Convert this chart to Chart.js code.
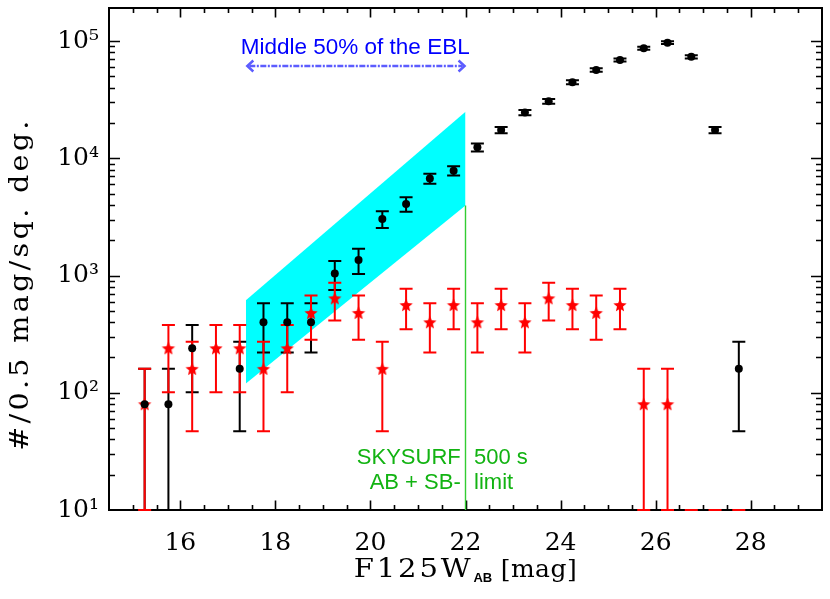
<!DOCTYPE html>
<html><head><meta charset="utf-8">
<script src="https://cdn.jsdelivr.net/npm/chart.js@4.4.1/dist/chart.umd.min.js"></script>
<style>html,body{margin:0;padding:0;background:#fff;overflow:hidden}#wrap{width:830px;height:599px;position:relative}</style>
</head><body><div id="wrap"><canvas id="c" width="830" height="599"></canvas></div>
<script>
// ---------------- data ----------------
const xTickValues = [16, 18, 20, 22, 24, 26, 28];
const xTickLabels = ['16', '18', '20', '22', '24', '26', '28'];
const yTickValues = [10, 100, 1000, 10000, 100000];
const yTickLabels = ['10\u00B9', '10\u00B2', '10\u00B3', '10\u2074', '10\u2075'];

const blackMag   = [15.25,15.75,16.25,17.25,17.75,18.25,18.75,19.25,19.75,20.25,20.75,21.25,21.75,22.25,22.75,23.25,23.75,24.25,24.75,25.25,25.75,26.25,26.75,27.25,27.75];
const blackCount = [80,80,240,160,400,400,400,1040,1360,3040,4080,6720,7840,12400,17400,24600,30600,44600,56600,68900,86900,97000,73400,17400,160];
const blackLow   = [0,0,101,47,221,221,221,752,1030,2547,3509,6064,7132,11404,16345,23345,29200,42910,54697,66800,84542,94214,70977,16345,47];
const blackHigh  = [160,160,379,273,579,579,579,1328,1690,3533,4651,7376,8548,13396,18455,25855,32000,46290,58503,71000,89258,99786,75823,18455,273];

const redMag   = [15.25,15.75,16.25,16.75,17.25,17.75,18.25,18.75,19.25,19.75,20.25,20.75,21.25,21.75,22.25,22.75,23.25,23.75,24.25,24.75,25.25,25.75,26.25,26.75,27.25,27.75];
const redCount = [80,240,160,240,240,160,240,480,640,480,160,560,400,560,400,560,400,640,560,480,560,80,80,0,0,0];
const redLow   = [0,101,47,101,101,47,101,284,414,284,47,348,221,348,221,348,221,414,348,284,348,0,0,0,0,0];
const redHigh  = [160,379,273,379,379,273,379,676,866,676,273,772,579,772,579,772,579,866,772,676,772,160,160,0,0,0];

const bandMag   = [17.38, 22.0];
const bandUpper = [615, 24900];
const bandLower = [120, 3960];

const limitMag   = [22.0, 22.0];
const limitCount = [3960, 10];

const arrowMag   = [17.41, 21.98];
const arrowCount = [61200, 61200];

// ---------------- styling / helpers ----------------
const SERIF = '"DejaVu Serif", "Liberation Serif", serif';
const SANS = '"Liberation Sans", Arial, Helvetica, sans-serif';
const GREEN = '#12b312';

const annotations = [
  { text: 'Middle 50% of the EBL', x: 19.68, y: 78300, align: 'center', color: '#0000ff', font: '22.5px ' + SANS },
  { text: 'SKYSURF',  x: 21.90, y: 24.8, align: 'right', color: GREEN, font: '22px ' + SANS },
  { text: 'AB + SB-', x: 21.90, y: 15.2, align: 'right', color: GREEN, font: '22px ' + SANS },
  { text: '500 s',    x: 22.18, y: 24.8, align: 'left',  color: GREEN, font: '22px ' + SANS },
  { text: 'limit',    x: 22.18, y: 15.2, align: 'left',  color: GREEN, font: '22px ' + SANS }
];

function makeStar(r, color) {
  const s = Math.ceil(2 * r + 2);
  const c = document.createElement('canvas');
  c.width = s; c.height = s;
  const g = c.getContext('2d');
  g.fillStyle = color;
  g.beginPath();
  for (let k = 0; k < 10; k++) {
    const ang = -Math.PI / 2 + k * Math.PI / 5;
    const rr = (k % 2) ? r * 0.45 : r;
    g.lineTo(s / 2 + rr * Math.cos(ang), s / 2 + rr * Math.sin(ang) + r * 0.08);
  }
  g.closePath();
  g.fill();
  return c;
}
const starImg = makeStar(7, '#ff0000');

function drawErrorBars(chart, mags, lows, highs, color) {
  const ctx = chart.ctx, xs = chart.scales.x, ys = chart.scales.y, a = chart.chartArea;
  ctx.save();
  ctx.strokeStyle = color;
  ctx.lineWidth = 2;
  ctx.lineCap = 'butt';
  for (let i = 0; i < mags.length; i++) {
    const px = xs.getPixelForValue(mags[i]);
    const yl = lows[i] > ys.min ? ys.getPixelForValue(lows[i]) : a.bottom;
    const yh = highs[i] > ys.min ? ys.getPixelForValue(highs[i]) : a.bottom;
    ctx.beginPath();
    ctx.moveTo(px, yl); ctx.lineTo(px, yh);
    ctx.moveTo(px - 6.5, yl); ctx.lineTo(px + 6.5, yl);
    ctx.moveTo(px - 6.5, yh); ctx.lineTo(px + 6.5, yh);
    ctx.stroke();
  }
  ctx.restore();
}

const overlay = {
  id: 'overlay',
  beforeDatasetsDraw(chart) {
    const ctx = chart.ctx, xs = chart.scales.x, ys = chart.scales.y, a = chart.chartArea;
    // inward ticks + frame
    ctx.save();
    ctx.strokeStyle = '#000';
    ctx.lineWidth = 1.6;
    ctx.beginPath();
    for (let k = 0; k * 0.5 + 15 < xs.max; k++) {
      const m = 15 + k * 0.5;
      const major = xTickValues.includes(m);
      const len = major ? 9.5 : 5;
      const px = Math.round(xs.getPixelForValue(m)) + 0.5;
      ctx.moveTo(px, a.bottom); ctx.lineTo(px, a.bottom - len);
      ctx.moveTo(px, a.top); ctx.lineTo(px, a.top + len);
    }
    for (let d = 1; d <= 5; d++) {
      for (let f = 1; f <= 9; f++) {
        const v = f * Math.pow(10, d);
        if (v <= ys.min || v >= ys.max) continue;
        const len = f === 1 ? 11 : 6;
        const py = Math.round(ys.getPixelForValue(v)) + 0.5;
        ctx.moveTo(a.left, py); ctx.lineTo(a.left + len, py);
        ctx.moveTo(a.right, py); ctx.lineTo(a.right - len, py);
      }
    }
    ctx.stroke();
    ctx.lineWidth = 2;
    ctx.strokeRect(a.left, a.top, a.right - a.left, a.bottom - a.top);
    ctx.restore();
  },
  beforeDatasetDraw(chart, args) {
    if (args.index === 1) {
      drawErrorBars(chart, blackMag, blackLow, blackHigh, '#000000');
      drawErrorBars(chart, redMag, redLow, redHigh, '#ff0000');
    }
  },
  afterDatasetsDraw(chart) {
    const ctx = chart.ctx, xs = chart.scales.x, ys = chart.scales.y;
    // double-headed arrow
    const x1 = xs.getPixelForValue(arrowMag[0]), x2 = xs.getPixelForValue(arrowMag[1]);
    const ya = Math.round(ys.getPixelForValue(arrowCount[0]));
    ctx.save();
    ctx.strokeStyle = '#5c5cff';
    ctx.lineWidth = 2.5;
    ctx.setLineDash([6, 1.5, 2, 1.5]);
    ctx.beginPath(); ctx.moveTo(x1 + 2, ya); ctx.lineTo(x2 - 2, ya); ctx.stroke();
    ctx.setLineDash([]);
    ctx.beginPath();
    ctx.moveTo(x1 + 6, ya - 5.5); ctx.lineTo(x1, ya); ctx.lineTo(x1 + 6, ya + 5.5);
    ctx.moveTo(x2 - 6, ya - 5.5); ctx.lineTo(x2, ya); ctx.lineTo(x2 - 6, ya + 5.5);
    ctx.stroke();
    ctx.restore();

    // annotation texts
    ctx.save();
    ctx.textBaseline = 'alphabetic';
    for (const t of annotations) {
      ctx.font = t.font;
      ctx.fillStyle = t.color;
      ctx.textAlign = t.align;
      ctx.fillText(t.text, xs.getPixelForValue(t.x), ys.getPixelForValue(t.y));
    }
    ctx.restore();
  },
  afterDraw(chart) {
    const ctx = chart.ctx, a = chart.chartArea;
    ctx.save();
    ctx.fillStyle = '#000';
    ctx.textBaseline = 'alphabetic';
    // x-axis title with subscript
    const f1 = '26px ' + SERIF, f3 = '25px ' + SERIF, f2 = 'bold 13px ' + SANS;
    const sx = 1.12;
    ctx.font = f1;
    ctx.letterSpacing = '2.5px';
    const w1 = ctx.measureText('F125W').width * sx;
    ctx.font = f3;
    ctx.letterSpacing = '0.5px';
    const w3 = ctx.measureText(' [mag]').width;
    ctx.letterSpacing = '0px';
    ctx.font = f2;
    const w2 = ctx.measureText('AB').width;
    const total = w1 + w2 + w3;
    const x0 = (a.left + a.right) / 2 - total / 2;
    const by = 577;
    ctx.textAlign = 'left';
    ctx.save();
    ctx.translate(x0, by);
    ctx.scale(sx, 1);
    ctx.font = f1;
    ctx.letterSpacing = '2.5px';
    ctx.fillText('F125W', 0, 0);
    ctx.restore();
    ctx.letterSpacing = '0px';
    ctx.font = f2;
    ctx.fillText('AB', x0 + w1, by + 5);
    ctx.font = f3;
    ctx.letterSpacing = '0.5px';
    ctx.fillText(' [mag]', x0 + w1 + w2, by);
    // y-axis title
    ctx.translate(28, (a.top + a.bottom) / 2 + 25);
    ctx.rotate(-Math.PI / 2);
    ctx.scale(1.1, 1);
    ctx.textAlign = 'center';
    ctx.letterSpacing = '3px';
    ctx.font = f1;
    ctx.fillText('#/0.5 mag/sq. deg.', 0, 0);
    ctx.restore();
  }
};

// ---------------- chart ----------------
const toXY = (xs, ys) => xs.map((x, i) => ({ x: x, y: ys[i] > 0 ? ys[i] : null }));

new Chart(document.getElementById('c'), {
  type: 'scatter',
  data: {
    datasets: [
      { label: 'SKYSURF', data: toXY(blackMag, blackCount), pointStyle: 'circle', pointRadius: 4, pointBackgroundColor: '#000', pointBorderWidth: 0, showLine: false, order: 0 },
      { label: 'stars', data: toXY(redMag, redCount), pointStyle: starImg, pointRadius: 7, showLine: false, order: 1 },
      { type: 'line', label: 'limit', data: toXY(limitMag, limitCount), borderColor: '#33cc33', backgroundColor: '#33cc33', borderWidth: 1.4, pointRadius: 0, fill: false, showLine: true, order: 2 },
      { type: 'line', label: 'bandU', data: toXY(bandMag, bandUpper), borderWidth: 0, borderColor: 'rgba(0,0,0,0)', pointRadius: 0, backgroundColor: '#00ffff', fill: '+1', order: 3 },
      { type: 'line', label: 'bandL', data: toXY(bandMag, bandLower), borderWidth: 0, borderColor: 'rgba(0,0,0,0)', pointRadius: 0, fill: false, order: 4 }
    ]
  },
  options: {
    responsive: false,
    devicePixelRatio: 1,
    animation: false,
    layout: { padding: { top: 3, right: 4, left: 0, bottom: 0 } },
    plugins: { legend: { display: false }, tooltip: { enabled: false } },
    scales: {
      x: {
        type: 'linear', min: 14.5, max: 29.5,
        grid: { display: false, drawTicks: false },
        border: { display: false },
        ticks: { color: '#000', font: { family: SERIF, size: 25 }, padding: 18, maxRotation: 0, autoSkip: false,
                 callback: (v, i) => xTickLabels[i] },
        afterBuildTicks: s => { s.ticks = xTickValues.map(v => ({ value: v })); },
        afterFit: s => { s.height = 89; s.paddingLeft = 0; s.paddingRight = 0; }
      },
      y: {
        type: 'logarithmic', min: 10, max: 191500,
        grid: { display: false, drawTicks: false },
        border: { display: false },
        ticks: { color: '#000', font: { family: SERIF, size: 25 }, padding: 10, autoSkip: false,
                 callback: (v, i) => yTickLabels[i] },
        afterBuildTicks: s => { s.ticks = yTickValues.map(v => ({ value: v })); },
        afterFit: s => { s.width = 109; s.paddingTop = 0; s.paddingBottom = 0; }
      }
    }
  },
  plugins: [overlay]
});
</script>
</body></html>
